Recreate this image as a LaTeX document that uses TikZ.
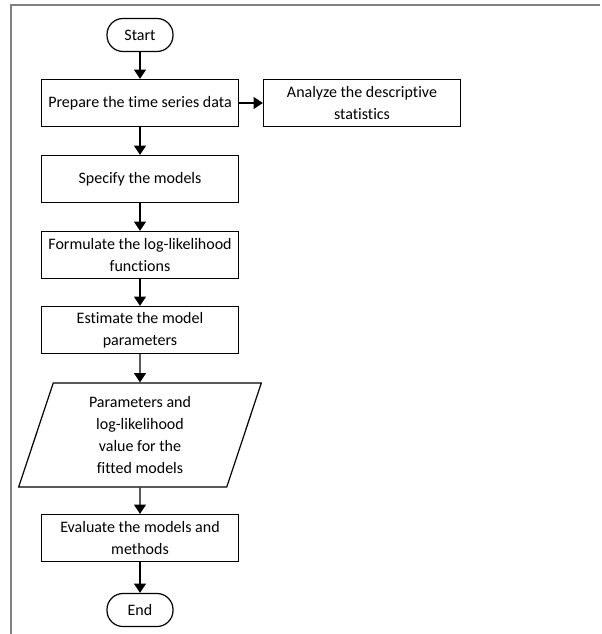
\documentclass[tikz,border=0pt]{standalone}
\usepackage{fontspec}
\setmainfont{Carlito}[Ligatures=NoCommon]
\usetikzlibrary{arrows.meta,shapes.geometric}

\tikzset{
  terminal/.style={draw, rounded corners=12pt, minimum width=49.5pt, minimum height=24.75pt, line width=0.9pt},
  process/.style={draw, minimum width=147.75pt, minimum height=35.25pt, align=center, inner sep=1pt, line width=0.9pt},
  iobox/.style={draw, trapezium, trapezium left angle=66.6, trapezium right angle=113.4, trapezium stretches body, minimum width=182pt, minimum height=78pt, align=center, inner sep=1pt, line width=0.9pt},
  flow/.style={-{Triangle[width=9pt,length=7pt]}, line width=1pt},
}

\begin{document}
\begin{tikzpicture}[x=0.75pt, y=-0.75pt, font=\fontsize{12}{16.5}\selectfont]
        \useasboundingbox (0,0) rectangle (601,634);

        % frame
        \draw[line width=1.5pt, color=gray] (11,634) -- (11,5) -- (600,5);

        % steps
        \node[terminal] (start) at (140,35) {Start};
        \node[process] (prep) at (140,103) {Prepare the time series data};
        \node[process] (stats) at (362,103) {Analyze the descriptive\\statistics};
        \node[process] (spec) at (140,179) {Specify the models};
        \node[process] (loglik) at (140,255) {Formulate the log-likelihood\\functions};
        \node[process] (estim) at (140,330) {Estimate the model\\parameters};
        \node[iobox] (params) at (140,435) {Parameters and\\log-likelihood\\value for the\\fitted models};
        \node[process] (eval) at (140,538) {Evaluate the models and\\methods};
        \node[terminal] (finish) at (140,610) {End};

        % arrows
        \draw[flow] (start) -- (prep);
        \draw[flow] (prep) -- (stats);
        \draw[flow] (prep) -- (spec);
        \draw[flow] (spec) -- (loglik);
        \draw[flow] (loglik) -- (estim);
        \draw[flow] (estim) -- (params);
        \draw[flow] (params) -- (eval);
        \draw[flow] (eval) -- (finish);
    \end{tikzpicture}
\end{document}
